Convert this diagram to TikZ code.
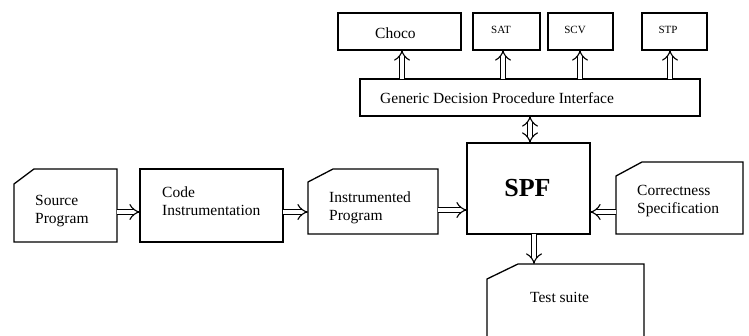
\documentclass[tikz,border=0pt]{standalone}
\usepackage{fontspec}
\setmainfont{Liberation Serif}
\usetikzlibrary{arrows.meta,calc}
\begin{document}
\begin{tikzpicture}[x=1pt,y=-1pt,
  box/.style={draw, line width=1.3pt, inner sep=0pt, outer sep=0pt},
  ghost/.style={draw=none, inner sep=0pt, outer sep=0pt},
  cut/.style={line width=1.3pt, line join=miter},
  txt/.style={inner sep=0pt, align=left, anchor=west, font=\fontsize{15.5}{18}\selectfont},
  small/.style={inner sep=0pt, font=\fontsize{11}{13}\selectfont},
  arr/.style={double, double distance=4.5pt, line width=1.1pt, -{Implies[scale=1.3]}},
  biarr/.style={double, double distance=4.5pt, line width=1.1pt, {Implies[scale=1.3]}-{Implies[scale=1.3]}}]
\useasboundingbox (0,0) rectangle (749,336);
\clip (0,0) rectangle (749,336);
% plain boxes
\node[box, minimum width=143pt, minimum height=73pt, anchor=north west] (code) at (140,169) {};
\node[box, minimum width=123pt, minimum height=91pt, anchor=north west] (spf) at (467,143) {};
\node[box, minimum width=340pt, minimum height=37pt, anchor=north west] (gdpi) at (360,79) {};
\node[box, minimum width=123pt, minimum height=37pt, anchor=north west] (choco) at (338,13) {};
\node[box, minimum width=67pt, minimum height=37pt, anchor=north west] (sat) at (473,13) {};
\node[box, minimum width=65pt, minimum height=37pt, anchor=north west] (scv) at (548,13) {};
\node[box, minimum width=65pt, minimum height=37pt, anchor=north west] (stp) at (642,13) {};
% cut-corner boxes
\node[ghost, minimum width=103pt, minimum height=73pt, anchor=north west] (src) at (14,169) {};
\node[ghost, minimum width=130pt, minimum height=65pt, anchor=north west] (instr) at (308,169) {};
\node[ghost, minimum width=127pt, minimum height=72pt, anchor=north west] (corr) at (616,162) {};
\node[ghost, minimum width=157pt, minimum height=100pt, anchor=north west] (test) at (487,264) {};
\draw[cut] ($(src.north west)+(0,15)$) -- ($(src.north west)+(20,0)$) -- (src.north east) -- (src.south east) -- (src.south west) -- cycle;
\draw[cut] ($(instr.north west)+(0,13)$) -- ($(instr.north west)+(25,0)$) -- (instr.north east) -- (instr.south east) -- (instr.south west) -- cycle;
\draw[cut] ($(corr.north west)+(0,14)$) -- ($(corr.north west)+(26,0)$) -- (corr.north east) -- (corr.south east) -- (corr.south west) -- cycle;
\draw[cut] ($(test.north west)+(0,15)$) -- ($(test.north west)+(31,0)$) -- (test.north east) -- (test.south east) -- (test.south west) -- cycle;
% texts
\node[txt] (tsrc) at (35,211) {Source\\Program};
\node[txt] (tcode) at (162,201) {Code\\Instrumentation};
\node[txt] (tinstr) at (329,208) {Instrumented\\Program};
\node[txt] (tcorr) at (637,201.5) {Correctness\\Specification};
\node[txt] (ttest) at (530,297) {Test suite};
\node[txt] (tchoco) at (375,33) {Choco};
\node[txt] (tgdpi) at (380,98) {Generic Decision Procedure Interface};
\node[small] (tsat) at (501,30) {SAT};
\node[small] (tscv) at (575,30) {SCV};
\node[small] (tstp) at (668,30) {STP};
\node[inner sep=0pt, font=\fontsize{26}{30}\bfseries\selectfont] (tspf) at (527.5,188) {SPF};
% arrows
\coordinate (a1) at ([yshift=-6.5pt]src.east);
\draw[arr] (a1) -- (a1 -| code.west);
\coordinate (a2) at ([yshift=-6.5pt]code.east);
\draw[arr] (a2) -- (a2 -| instr.west);
\coordinate (a3) at ([yshift=-8.5pt]instr.east);
\draw[arr] (a3) -- (a3 -| spf.west);
\coordinate (a4) at ([yshift=-14pt]corr.west);
\draw[arr] (a4) -- (a4 -| spf.east);
\coordinate (a5) at ([xshift=5.5pt]spf.south);
\draw[arr] (a5) -- (a5 |- test.north);
\coordinate (a6) at ([xshift=1.5pt]spf.north);
\draw[biarr] (a6) -- (a6 |- gdpi.south);
\coordinate (c1) at (402,79);
\draw[arr] (c1) -- (c1 |- choco.south);
\coordinate (c2) at (503,79);
\draw[arr] (c2) -- (c2 |- sat.south);
\coordinate (c3) at (580,79);
\draw[arr] (c3) -- (c3 |- scv.south);
\coordinate (c4) at (670,79);
\draw[arr] (c4) -- (c4 |- stp.south);
\end{tikzpicture}
\end{document}
